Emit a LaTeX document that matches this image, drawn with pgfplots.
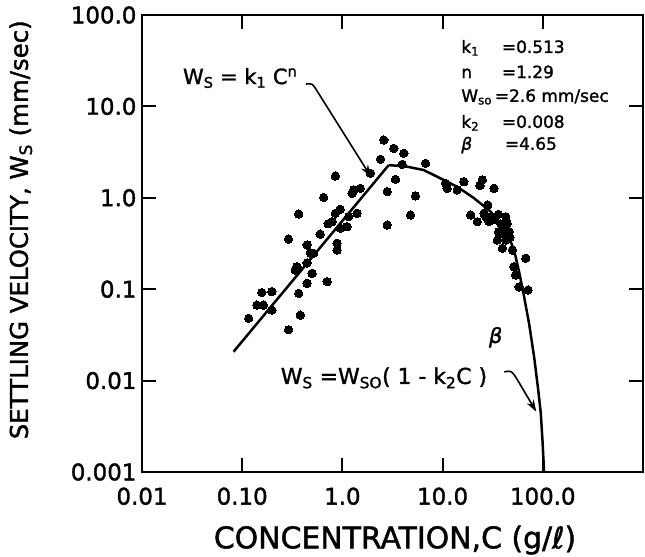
\documentclass[border=0pt]{standalone}
\usepackage{pgfplots}
\pgfplotsset{compat=1.18}
\usepackage{fontspec}
\setmainfont{DejaVu Sans}[FakeBold=1.5]
\usetikzlibrary{arrows.meta}
\begin{document}
\begin{tikzpicture}
\path[use as bounding box] (0,0) rectangle (645bp,557bp);
\begin{axis}[
  at={(142bp,85bp)}, anchor=south west,
  width=501bp, height=457bp, scale only axis,
  line width=2.5bp,
  xmode=log, ymode=log,
  xmin=0.01, xmax=1000, ymin=0.001, ymax=100,
  xtick={0.01,0.1,1,10,100}, xticklabels={0.01,0.10,1.0,10.0,100.0},
  ytick={0.001,0.01,0.1,1,10,100}, yticklabels={0.001,0.01,0.1,1.0,10.0,100.0},
  xminorticks=false, yminorticks=false,
  tick align=inside, major tick length=14bp,
  every tick/.style={black, line width=2pt},
  axis line style={line width=2.5bp},
  tick label style={font=\fontsize{23}{23}\selectfont},
  xticklabel style={yshift=-11bp},
  yticklabel style={xshift=-1bp},
  xlabel={CONCENTRATION,C (g/ℓ)},
  ylabel={SETTLING VELOCITY, W\textsubscript{S} (mm/sec)},
  xlabel style={at={(axis description cs:0.505,-0.149)}, anchor=center, font=\fontsize{30}{30}\selectfont},
  ylabel style={at={(axis description cs:-0.242,0.53)}, anchor=center, font=\fontsize{24.5}{24.5}\selectfont},
  clip=false,
]
% fitted lines
\addplot[black, line width=2.5pt] coordinates {(0.082,0.0207) (2.9,2.28)};
\addplot[black, line width=2.5pt] coordinates {
 (2.9,2.28) (4.43,2.19) (6.5,2.01) (9.55,1.63) (14,1.32) (20.6,0.99) (30.2,0.705)
 (41,0.46) (47,0.35) (52,0.26) (58,0.155) (65,0.083) (73,0.042) (82,0.018)
 (90,0.0079) (95.5,0.0044) (99.3,0.0022) (103,0.001)};
% data
\addplot[only marks, mark=*, mark size=4.2bp, black, mark options={line width=0pt}] coordinates {
(0.116,0.048) (0.140,0.067) (0.157,0.092) (0.198,0.094) (0.163,0.067) (0.198,0.059)
(0.290,0.036) (0.380,0.052) (0.366,0.090) (0.444,0.116) (0.339,0.162) (0.498,0.149)
(0.444,0.194) (0.479,0.249) (0.352,0.176) (0.290,0.354) (0.444,0.305) (0.516,0.247)
(0.703,0.121) (0.885,0.268) (0.885,0.318) (0.366,0.665) (0.851,0.676) (0.789,0.548)
(1.156,0.621) (1.40,0.676) (0.955,0.464) (0.650,1.01) (0.851,1.73) (1.25,1.12)
(1.905,1.85) (1.30,1.22) (1.51,1.27) (1.11,0.483) (0.60,0.40) (0.72,0.52) (0.95,0.75)
(2.59,4.29) (3.26,3.48) (4.10,3.07) (2.40,2.64) (3.39,1.59) (2.80,1.17) (5.37,1.05)
(4.79,0.648) (2.80,0.504) (6.76,2.38) (3.95,2.32) (11.1,1.27) (14.0,1.22) (10.7,1.44)
(16.3,1.50) (24.9,1.57) (23.6,1.36) (32.6,1.27) (25.9,0.676) (22.2,0.548) (30.2,0.621)
(42.7,0.621) (41.0,0.483) (46.0,0.426) (35.2,0.345) (42.7,0.345) (39.5,0.280)
(49.8,0.268) (67.6,0.218) (51.6,0.176) (53.7,0.143) (57.9,0.106) (71.3,0.098)
(28.2,0.834) (19.1,0.648) (36.3,0.423) (27,0.62) (33,0.58) (38,0.52) (29,0.55)
(36,0.66) (44,0.52) (47,0.37) (40,0.40)};
% annotations
\node[font=\fontsize{21}{21}\selectfont, anchor=center] at (rel axis cs:0.196,0.862)
  {W\textsubscript{S} = k\textsubscript{1} C\textsuperscript{n}};
\draw[line width=1.6pt, -{Stealth[length=12bp,width=8bp]}]
  (rel axis cs:0.327,0.849) .. controls (rel axis cs:0.340,0.850) .. (rel axis cs:0.347,0.838)
  -- (rel axis cs:0.457,0.646);
\begin{scope}[every node/.style={font=\fontsize{17}{17}\selectfont, anchor=base west, inner sep=0pt}]
\node at (rel axis cs:0.635,0.917) {k\textsubscript{1}};
\node at (rel axis cs:0.716,0.917) {=0.513};
\node at (rel axis cs:0.635,0.862) {n};
\node at (rel axis cs:0.716,0.862) {=1.29};
\node at (rel axis cs:0.635,0.810) {W\textsubscript{so}};
\node at (rel axis cs:0.702,0.810) {=2.6 mm/sec};
\node at (rel axis cs:0.635,0.753) {k\textsubscript{2}};
\node at (rel axis cs:0.716,0.753) {=0.008};
\node at (rel axis cs:0.635,0.705) {\itshape β};
\node at (rel axis cs:0.722,0.705) {=4.65};
\end{scope}
\node[font=\fontsize{21}{21}\selectfont\itshape] at (rel axis cs:0.706,0.295) {β};
\node[font=\fontsize{22}{22}\selectfont, anchor=center] at (rel axis cs:0.483,0.206)
  {W\textsubscript{S} =W\textsubscript{SO}( 1 - k\textsubscript{2}C )};
\draw[line width=1.6pt, -{Stealth[length=12bp,width=8bp]}]
  (rel axis cs:0.723,0.219) .. controls (rel axis cs:0.737,0.222) .. (rel axis cs:0.747,0.206)
  -- (rel axis cs:0.787,0.132);
\end{axis}
\end{tikzpicture}
\end{document}
